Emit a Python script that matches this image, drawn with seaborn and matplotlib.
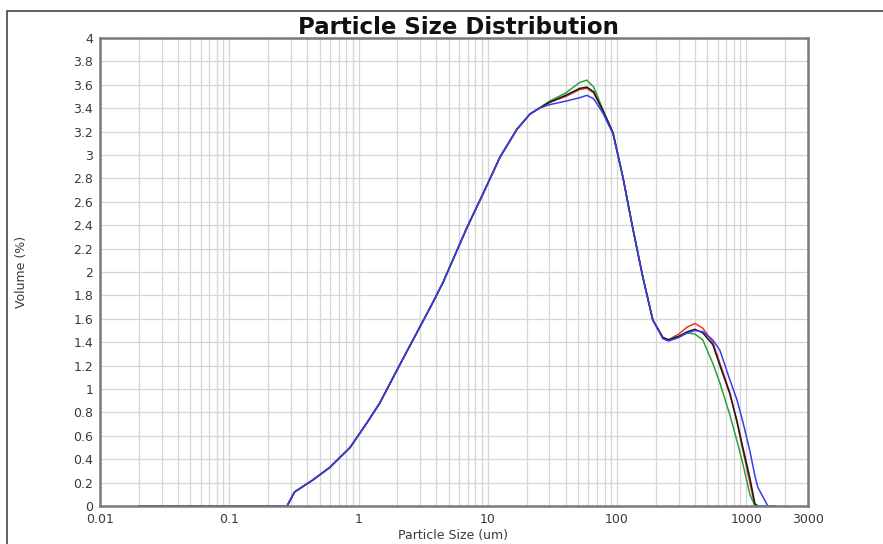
import numpy as np
import pandas as pd
import matplotlib
matplotlib.use("Agg")
import matplotlib.pyplot as plt
import matplotlib.ticker as mticker
from matplotlib.lines import Line2D
import seaborn as sns

# ---------------- data ----------------
size_um = [0.02, 0.28, 0.32, 0.44, 0.60, 0.86, 1.16, 1.46, 1.98, 2.64, 3.6, 4.5,
           6.9, 9.2, 12.4, 16.8, 21.2, 25, 30, 40, 51.5, 58.4, 66, 77.6, 93, 111,
           132, 158, 189, 226, 250, 300, 350, 400, 460, 550, 625, 745, 845,
           940, 1065, 1165, 1227, 1467, 1700]

rise = [0, 0, 0.12, 0.22, 0.33, 0.50, 0.71, 0.88, 1.16, 1.42, 1.70, 1.91,
        2.38, 2.67, 2.98, 3.22, 3.35, 3.40]

nan = np.nan
red_tail = [3.45, 3.50, 3.56, 3.57, 3.53, 3.38, 3.19, 2.81, 2.38, 1.96, 1.59, 1.44, 1.42,
            1.47, 1.53, 1.56, 1.52, 1.40, 1.22, 0.97, 0.72, 0.48, 0.20, 0.0, 0.0, nan, nan]
black_tail = [3.45, 3.51, 3.57, 3.58, 3.54, 3.38, 3.19, 2.81, 2.38, 1.96, 1.59, 1.44, 1.42,
              1.45, 1.49, 1.51, 1.48, 1.38, 1.20, 0.96, 0.73, 0.50, 0.24, 0.02, 0.0, nan, nan]
green_tail = [3.46, 3.53, 3.62, 3.64, 3.58, 3.39, 3.19, 2.81, 2.38, 1.96, 1.59, 1.44, 1.42,
              1.45, 1.48, 1.47, 1.42, 1.22, 1.05, 0.78, 0.56, 0.36, 0.10, 0.0, 0.0, 0.0, nan]
blue_tail = [3.43, 3.46, 3.49, 3.51, 3.48, 3.36, 3.18, 2.81, 2.38, 1.96, 1.59, 1.43, 1.41,
             1.44, 1.48, 1.50, 1.49, 1.42, 1.33, 1.08, 0.91, 0.72, 0.47, 0.26, 0.16, 0.0, 0.0]

series_names = ["red", "green", "black", "blue"]
series_values = {
    "red": rise + red_tail,
    "green": rise + green_tail,
    "black": rise + black_tail,
    "blue": rise + blue_tail,
}
series_colors = {"red": "#e8322b", "green": "#2f9e3c", "black": "#1a1a1a", "blue": "#3b3bf0"}

x_tick_values = [0.01, 0.1, 1, 10, 100, 1000, 3000]
x_tick_labels = ["0.01", "0.1", "1", "10", "100", "1000", "3000"]
y_tick_values = [round(0.2 * i, 1) for i in range(21)]
y_tick_labels = [("%g" % v) for v in y_tick_values]

# ---------------- build frame ----------------
rows = []
for name in series_names:
    for xv, yv in zip(size_um, series_values[name]):
        rows.append({"size": xv, "volume": yv, "series": name})
df = pd.DataFrame(rows).dropna()

# ---------------- plot ----------------
sns.set_style("white")
plt.rcParams["font.family"] = ["DejaVu Sans"]

fig = plt.figure(figsize=(8.83, 5.44), dpi=100)
ax = fig.add_axes([100 / 883, 1 - 506 / 544, 708 / 883, 468 / 544])

sns.lineplot(data=df, x="size", y="volume", hue="series", hue_order=series_names,
             palette=series_colors, ax=ax, linewidth=1.1, legend=False,
             estimator=None, sort=False)

ax.set_xscale("log")
ax.set_xlim(0.01, 3000)
ax.set_ylim(0, 4)

ax.xaxis.set_major_locator(mticker.FixedLocator(x_tick_values))
ax.xaxis.set_major_formatter(mticker.FixedFormatter(x_tick_labels))
ax.xaxis.set_minor_locator(mticker.LogLocator(base=10, subs=np.arange(2, 10), numticks=20))
ax.xaxis.set_minor_formatter(mticker.NullFormatter())
ax.set_yticks(y_tick_values)
ax.set_yticklabels(y_tick_labels)

ax.grid(True, which="both", axis="x", color="#d6d6d6", linewidth=0.9)
ax.grid(True, which="major", axis="y", color="#d6d6d6", linewidth=0.9)
ax.set_axisbelow(True)

ax.tick_params(axis="both", which="major", labelsize=9, labelcolor="#3a3a3a",
               length=3, color="#888888", pad=2)
ax.tick_params(axis="x", which="minor", length=0)
for sp in ax.spines.values():
    sp.set_color("#7a7a7a")
    sp.set_linewidth(1.8)

ax.set_xlabel("")
ax.set_ylabel("")
fig.text(458 / 883, 1 - 28 / 544, "Particle Size Distribution", ha="center", va="center",
         fontsize=16.5, fontweight="bold", color="#111111")

fig.text(22 / 883, 1 - 272 / 544, "Volume (%)", rotation=90, ha="center", va="center",
         fontsize=9, color="#3a3a3a")
fig.text(453 / 883, 1 - 535 / 544, "Particle Size (um)", ha="center", va="center",
         fontsize=9, color="#3a3a3a")

# outer frame
fig.add_artist(Line2D([7 / 883, 1.0], [1 - 11 / 544, 1 - 11 / 544],
                      transform=fig.transFigure, color="#555555", linewidth=1.3))
fig.add_artist(Line2D([7 / 883, 7 / 883], [0.0, 1 - 11 / 544],
                      transform=fig.transFigure, color="#555555", linewidth=1.3))

fig.savefig("out.png", dpi=100)
